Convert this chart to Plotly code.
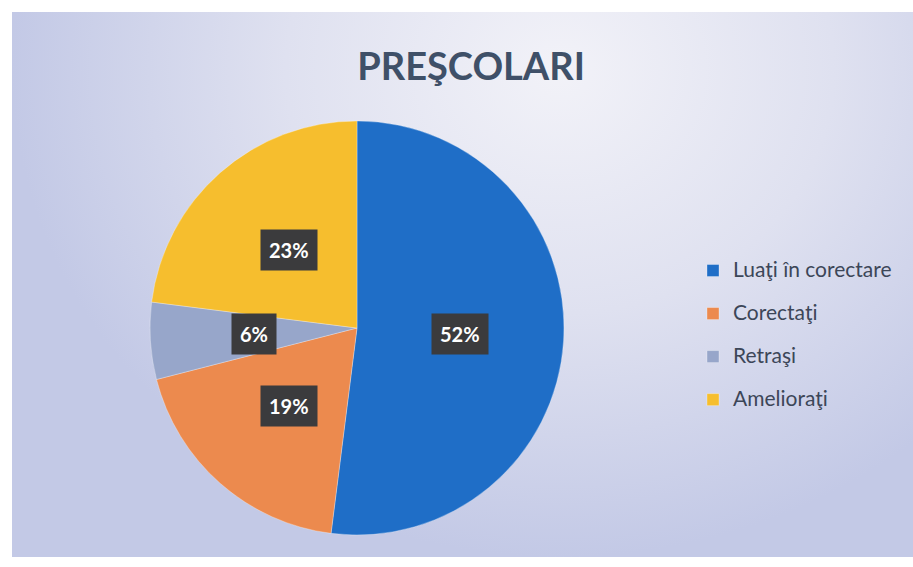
import math
import plotly.graph_objects as go

# ---- data ----
categories = ["Luaţi în corectare", "Corectaţi", "Retraşi", "Amelioraţi"]
values = [52, 19, 6, 23]
colors = ["#1F6EC7", "#EC8A4E", "#97A6CA", "#F6BE2E"]
title_text = "PREŞCOLARI"

W, H = 913, 567
# pie geometry (pixels)
cx, cy, R = 357, 328, 207

fig = go.Figure()

# background gradient panel (clipped to plot area)
bg_left, bg_top, bg_bottom = 12, 12, 557
light_x, light_y = 560, 70
fig.add_trace(go.Scatter(
    x=[bg_left, 2 * light_x - bg_left, 2 * light_x - bg_left, bg_left, bg_left],
    y=[2 * light_y - bg_bottom, 2 * light_y - bg_bottom, bg_bottom, bg_bottom, 2 * light_y - bg_bottom],
    mode="lines", line=dict(width=0), fill="toself",
    fillgradient=dict(type="radial", colorscale=[[0, "#F2F2F8"], [0.5, "#DFE1F0"], [1, "#C3C9E6"]]),
    hoverinfo="skip", showlegend=False,
))

# legend labels: larger visible text, trailing empty line reproduces the wide row spacing
legend_labels = ['<span style="font-size:21px">' + c + "</span><br>" for c in categories]

fig.add_trace(go.Pie(
    labels=legend_labels,
    values=values,
    marker=dict(colors=colors, line=dict(color="rgba(255,255,255,0.5)", width=0.6)),
    sort=False, direction="clockwise", rotation=0,
    textinfo="none", hoverinfo="percent",
    domain=dict(x=[(cx - R) / W, (cx + R) / W], y=[(H - cy - R) / H, (H - cy + R) / H]),
    showlegend=True,
))

# data labels (dark boxes) placed at half radius along each slice's mid angle
total = sum(values)
annotations = []
cum = 0
for v in values:
    theta = 2 * math.pi * (cum + v / 2) / total
    cum += v
    px = cx + 0.5 * R * math.sin(theta)
    py = cy - 0.5 * R * math.cos(theta)
    annotations.append(dict(
        x=px / W, y=1 - py / H, xref="paper", yref="paper",
        xanchor="center", yanchor="middle",
        text=f"{round(100 * v / total)}%", showarrow=False,
        font=dict(family="Lato", size=20, color="white", weight="bold"),
        bgcolor="#3B3B3D", borderpad=8,
    ))

fig.update_layout(
    width=W, height=H,
    margin=dict(l=0, r=0, t=0, b=0),
    paper_bgcolor="white", plot_bgcolor="rgba(0,0,0,0)",
    xaxis=dict(domain=[bg_left / W, 1], range=[bg_left, W], visible=False, fixedrange=True),
    yaxis=dict(domain=[(H - bg_bottom) / H, (H - bg_top) / H], range=[bg_bottom, bg_top],
               visible=False, fixedrange=True),
    title=dict(text=title_text, x=0.516, xanchor="center", y=1 - 67 / H, yanchor="middle",
               font=dict(family="Lato", size=38, color="#3F5068", weight="bold")),
    legend=dict(x=693 / W, xanchor="left", y=1 - 254 / H, yanchor="top",
                font=dict(family="Lato", size=15.4, color="#3C4658"),
                valign="top", bgcolor="rgba(0,0,0,0)", itemclick=False),
    annotations=annotations,
    showlegend=True,
)

fig.write_html(
    "out.html",
    config={"displayModeBar": False},
    post_script="document.body.style.margin='0';document.body.style.padding='0';"
                "document.body.style.overflow='hidden';",
)
